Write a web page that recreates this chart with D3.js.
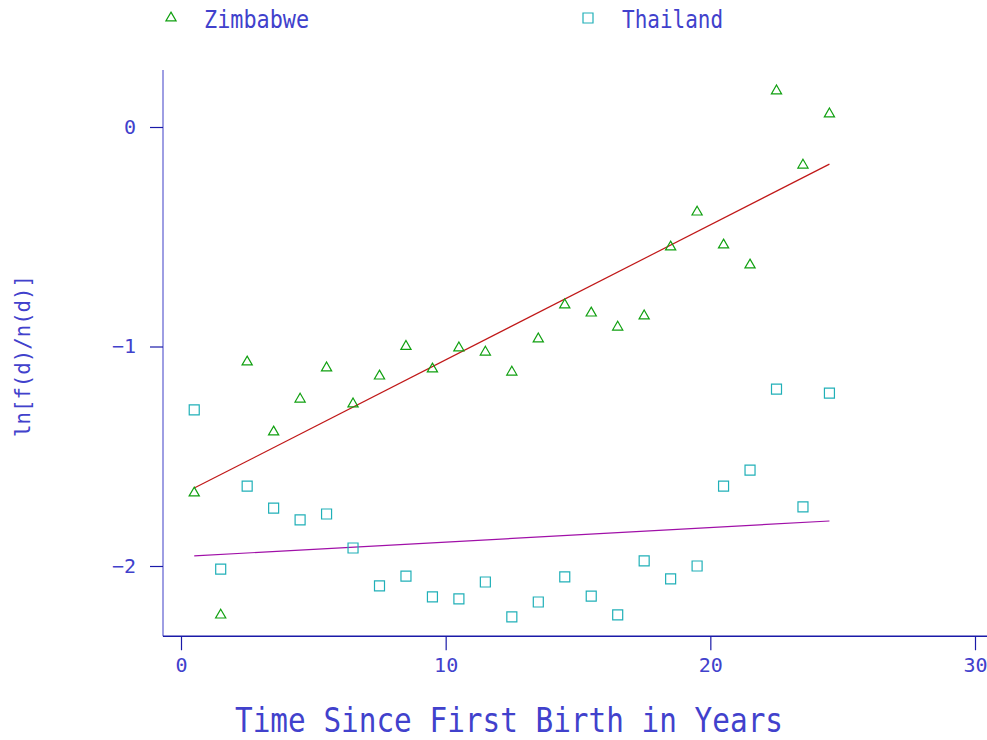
<!DOCTYPE html>
<html><head><meta charset="utf-8">
<script src="https://cdn.jsdelivr.net/npm/d3@7"></script>
<style>body{margin:0;background:#fff}text{font-family:"DejaVu Sans Mono",monospace;fill:#4141cc}</style>
</head><body>
<script>
const years = [0.5,1.5,2.5,3.5,4.5,5.5,6.5,7.5,8.5,9.5,10.5,11.5,12.5,13.5,14.5,15.5,16.5,17.5,18.5,19.5,20.5,21.5,22.5,23.5,24.5];
const zimbabwe = [-1.663,-2.219,-1.066,-1.385,-1.235,-1.093,-1.257,-1.130,-0.995,-1.098,-1.002,-1.021,-1.112,-0.961,-0.806,-0.843,-0.907,-0.856,-0.542,-0.383,-0.533,-0.624,0.169,-0.169,0.064];
const thailand = [-1.289,-2.014,-1.636,-1.736,-1.790,-1.763,-1.918,-2.091,-2.046,-2.141,-2.150,-2.073,-2.232,-2.164,-2.050,-2.137,-2.223,-1.977,-2.059,-2.000,-1.636,-1.563,-1.194,-1.731,-1.212];
const fitYears = [0.5, 24.5];
const zimbabweFit = [-1.645, -0.169];
const thailandFit = [-1.954, -1.795];
const xTicks = [0,10,20,30];
const yTicks = [0,-1,-2];
const seriesNames = ["Zimbabwe","Thailand"];

const W=987,H=740;
const svg=d3.select("body").append("svg").attr("width",W).attr("height",H);
const x=d3.scaleLinear().domain([0,30]).range([181,975]);
const y=d3.scaleLinear().domain([0,-2]).range([127,566]);
const axisCol="#6a6ad4", tickCol="#1a1aa8";

// axis lines
svg.append("line").attr("x1",163).attr("x2",163).attr("y1",70).attr("y2",y(-2.32)).attr("stroke",axisCol).attr("stroke-width",1.3);
svg.append("line").attr("x1",163).attr("x2",987).attr("y1",y(-2.32)).attr("y2",y(-2.32)).attr("stroke",tickCol).attr("stroke-width",1.3);

const yAx=svg.append("g").attr("transform","translate(163,0)")
  .call(d3.axisLeft(y).tickValues(yTicks).tickSize(13).tickPadding(14).tickFormat(d3.format("d")));
const xAx=svg.append("g").attr("transform",`translate(0,${y(-2.32)})`)
  .call(d3.axisBottom(x).tickValues(xTicks).tickSize(14).tickPadding(8).tickFormat(d3.format("d")));
[yAx,xAx].forEach(g=>{g.select(".domain").remove();g.selectAll("line").attr("stroke",tickCol).attr("stroke-width",1.2);
  g.selectAll("text").attr("font-size",20).attr("font-family","DejaVu Sans Mono").attr("fill","#4141cc");});

// fit lines
const line=d3.line().x(d=>x(d[0])).y(d=>y(d[1]));
svg.append("path").attr("d",line(fitYears.map((v,i)=>[v,zimbabweFit[i]]))).attr("fill","none").attr("stroke","#c01818").attr("stroke-width",1.2);
svg.append("path").attr("d",line(fitYears.map((v,i)=>[v,thailandFit[i]]))).attr("fill","none").attr("stroke","#a010a8").attr("stroke-width",1.2);

const tri=d3.symbol().type(d3.symbolTriangle).size(45);
const sq=d3.symbol().type(d3.symbolSquare).size(100);
svg.append("g").selectAll("path").data(years).join("path")
  .attr("transform",(d,i)=>`translate(${x(d)},${y(zimbabwe[i])+1})`).attr("d",tri)
  .attr("fill","none").attr("stroke","#10a010").attr("stroke-width",1.2);
svg.append("g").selectAll("path").data(years).join("path")
  .attr("transform",(d,i)=>`translate(${x(d)},${y(thailand[i])})`).attr("d",sq)
  .attr("fill","none").attr("stroke","#20b0b8").attr("stroke-width",1.2);

// legend
svg.append("path").attr("d",tri).attr("transform","translate(171,18)").attr("fill","none").attr("stroke","#10a010").attr("stroke-width",1.2);
svg.append("text").attr("x",204).attr("y",28).attr("font-size",24).attr("textLength",105).attr("lengthAdjust","spacingAndGlyphs").text(seriesNames[0]);
svg.append("path").attr("d",sq).attr("transform","translate(588,18)").attr("fill","none").attr("stroke","#20b0b8").attr("stroke-width",1.2);
svg.append("text").attr("x",622).attr("y",28).attr("font-size",24).attr("textLength",101).attr("lengthAdjust","spacingAndGlyphs").text(seriesNames[1]);

// axis titles
svg.append("text").attr("x",235).attr("y",732).attr("font-size",33).attr("textLength",548).attr("lengthAdjust","spacingAndGlyphs").text("Time Since First Birth in Years");
svg.append("text").attr("transform","translate(30,437) rotate(-90)").attr("font-size",22).attr("textLength",162).attr("lengthAdjust","spacingAndGlyphs").text("ln[f(d)/n(d)]");
</script>
</body></html>
